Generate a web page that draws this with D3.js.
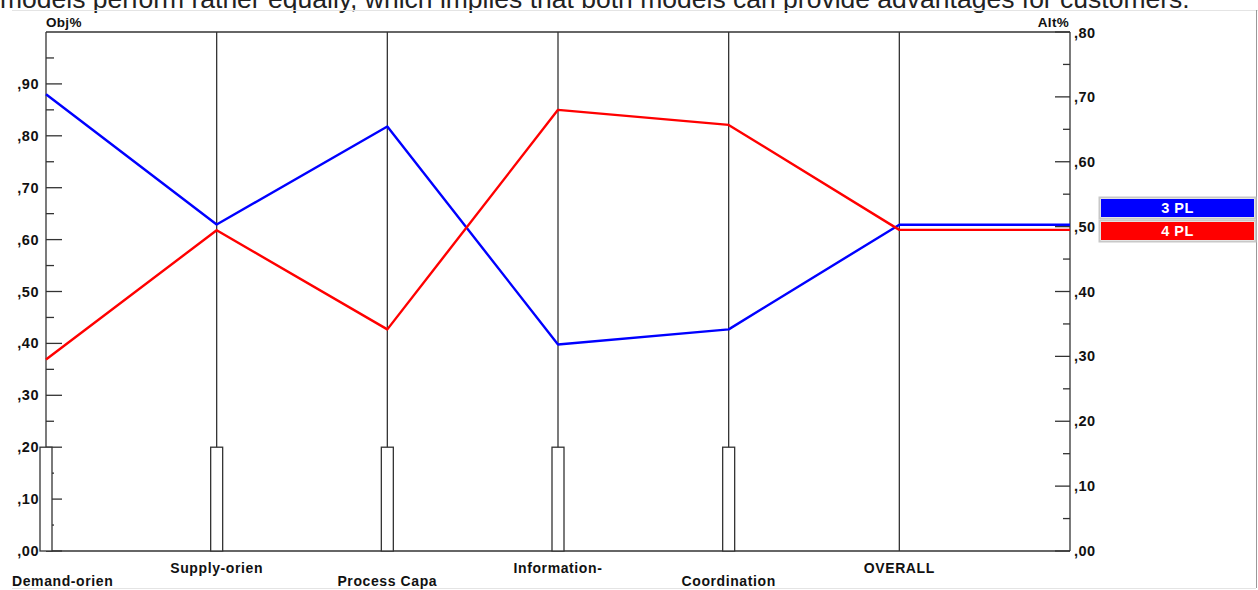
<!DOCTYPE html>
<html>
<head>
<meta charset="utf-8">
<script src="https://cdn.jsdelivr.net/npm/d3@7"></script>
<style>
  html, body { margin: 0; padding: 0; background: #fff; }
  svg { display: block; }
  .bold { font-family: "Liberation Sans", Arial, sans-serif; font-weight: bold; fill: #111; }
</style>
</head>
<body>
<svg id="chart" width="1258" height="590"></svg>
<script>
// ---------------- data ----------------
const criteria = ["Demand-orien", "Supply-orien", "Process Capa", "Information-", "Coordination", "OVERALL"];
const criteriaWeights = [0.20, 0.20, 0.20, 0.20, 0.20];
const seriesNames = ["3 PL", "4 PL"];
const seriesColors = ["#0000ff", "#ff0000"];
const pl3Values = [0.880, 0.629, 0.818, 0.398, 0.427];   // Obj% scale
const pl4Values = [0.369, 0.618, 0.427, 0.850, 0.821];   // Obj% scale
const overallValues = [0.503, 0.495];                   // Alt% scale
const leftTicks = [0, 0.1, 0.2, 0.3, 0.4, 0.5, 0.6, 0.7, 0.8, 0.9];
const leftTickLabels = [",00", ",10", ",20", ",30", ",40", ",50", ",60", ",70", ",80", ",90"];
const rightTicks = [0, 0.1, 0.2, 0.3, 0.4, 0.5, 0.6, 0.7, 0.8];
const rightTickLabels = [",00", ",10", ",20", ",30", ",40", ",50", ",60", ",70", ",80"];
const caption = "models perform rather equally, which implies that both models can provide advantages for customers.";

// ---------------- layout ----------------
const svg = d3.select("#chart");
const pL = 46, pR = 1070, pT = 32, pB = 551;

const x = d3.scalePoint().domain(d3.range(criteria.length + 1)).range([pL, pR]);
const yL = d3.scaleLinear().domain([0, 1.0]).range([pB, pT]);
const yR = d3.scaleLinear().domain([0, 0.8]).range([pB, pT]);

// caption (cut off at top, as in the source screenshot)
svg.append("text")
  .attr("x", 0).attr("y", 8)
  .attr("font-family", "Liberation Sans, Arial, sans-serif")
  .attr("font-size", 26.5)
  .attr("fill", "#222")
  .text(caption);

// screenshot frame
svg.append("line").attr("x1", 12).attr("x2", 1258).attr("y1", 10.5).attr("y2", 10.5).attr("stroke", "#e4e4e4");
svg.append("line").attr("x1", 12).attr("x2", 1256).attr("y1", 588.5).attr("y2", 588.5).attr("stroke", "#e4e4e4");
svg.append("line").attr("x1", 1256.5).attr("x2", 1256.5).attr("y1", 10).attr("y2", 588).attr("stroke", "#999");

const axisColor = "#333";

// box top & bottom
svg.append("line").attr("x1", pL).attr("x2", pR).attr("y1", pT).attr("y2", pT).attr("stroke", axisColor).attr("stroke-width", 1.3);
svg.append("line").attr("x1", pL).attr("x2", pR).attr("y1", pB).attr("y2", pB).attr("stroke", axisColor).attr("stroke-width", 1.3);

// vertical axes
d3.range(criteria.length + 1).forEach(i => {
  svg.append("line").attr("x1", x(i)).attr("x2", x(i)).attr("y1", pT).attr("y2", pB)
    .attr("stroke", axisColor).attr("stroke-width", 1.3);
});

// left axis ticks
const leftMinor = d3.range(0.05, 1.0, 0.1);
leftTicks.forEach((t, i) => {
  svg.append("line").attr("x1", pL).attr("x2", pL + 16).attr("y1", yL(t)).attr("y2", yL(t)).attr("stroke", axisColor).attr("stroke-width", 1.3);
  svg.append("text").attr("class", "bold").attr("x", 39).attr("y", yL(t) + 5)
    .attr("text-anchor", "end").attr("font-size", 14.5).attr("letter-spacing", 0.5).text(leftTickLabels[i]);
});
leftMinor.forEach(t => {
  svg.append("line").attr("x1", pL).attr("x2", pL + 8).attr("y1", yL(t)).attr("y2", yL(t)).attr("stroke", axisColor).attr("stroke-width", 1.3);
});

// right axis ticks
const rightMinor = d3.range(0.05, 0.8, 0.1);
rightTicks.forEach((t, i) => {
  svg.append("line").attr("x1", pR - 15).attr("x2", pR).attr("y1", yR(t)).attr("y2", yR(t)).attr("stroke", axisColor).attr("stroke-width", 1.3);
  svg.append("text").attr("class", "bold").attr("x", 1074).attr("y", yR(t) + 5 + (i === rightTicks.length - 1 ? 1 : 0))
    .attr("text-anchor", "start").attr("font-size", 14.5).attr("letter-spacing", 0.5).text(rightTickLabels[i]);
});
rightMinor.forEach(t => {
  svg.append("line").attr("x1", pR - 7).attr("x2", pR).attr("y1", yR(t)).attr("y2", yR(t)).attr("stroke", axisColor).attr("stroke-width", 1.3);
});

// axis titles
svg.append("text").attr("class", "bold").attr("x", pL).attr("y", 27).attr("font-size", 13.5).attr("letter-spacing", 0.3).text("Obj%");
svg.append("text").attr("class", "bold").attr("x", pR - 1).attr("y", 27).attr("text-anchor", "end").attr("font-size", 13.5).attr("letter-spacing", 0.3).text("Alt%");

// weight bars
criteriaWeights.forEach((w, i) => {
  svg.append("rect")
    .attr("x", x(i) - 6).attr("width", 12)
    .attr("y", yL(w)).attr("height", yL(0) - yL(w))
    .attr("fill", "#fff").attr("stroke", axisColor).attr("stroke-width", 1.3);
});

// series lines
const allSeries = [pl3Values, pl4Values];
allSeries.forEach((vals, s) => {
  const pts = vals.map((v, i) => [x(i), yL(v)]);
  pts.push([x(criteria.length - 1), yR(overallValues[s])]);
  pts.push([x(criteria.length), yR(overallValues[s])]);
  svg.append("path")
    .attr("d", d3.line()(pts))
    .attr("fill", "none")
    .attr("stroke", seriesColors[s])
    .attr("stroke-width", 2.4)
    .attr("stroke-linejoin", "round");
});

// criteria labels
criteria.forEach((c, i) => {
  const t = svg.append("text").attr("class", "bold")
    .attr("font-size", 14).attr("letter-spacing", 0.6)
    .attr("y", i % 2 === 0 ? 586 : 573)
    .attr("text-anchor", "middle")
    .attr("x", x(i))
    .text(c);
  const w = t.node().getComputedTextLength();
  if (x(i) - w / 2 < 12) t.attr("x", 12 + w / 2);
});

// legend
const legX = 1101, legW = 153, legH = 18;
seriesNames.forEach((n, i) => {
  const ly = 199 + i * 23;
  svg.append("rect").attr("x", legX - 1.5).attr("y", ly - 1.5).attr("width", legW + 3).attr("height", legH + 3)
    .attr("fill", "none").attr("stroke", "#c8c8c8").attr("stroke-width", 2);
  svg.append("rect").attr("x", legX).attr("y", ly).attr("width", legW).attr("height", legH)
    .attr("fill", seriesColors[i]);
  svg.append("text").attr("x", legX + legW / 2).attr("y", ly + 14)
    .attr("text-anchor", "middle")
    .attr("font-family", "Liberation Sans, Arial, sans-serif").attr("font-weight", "bold")
    .attr("font-size", 14.5).attr("letter-spacing", 0.5)
    .attr("fill", "#fff").text(n);
});
</script>
</body>
</html>
